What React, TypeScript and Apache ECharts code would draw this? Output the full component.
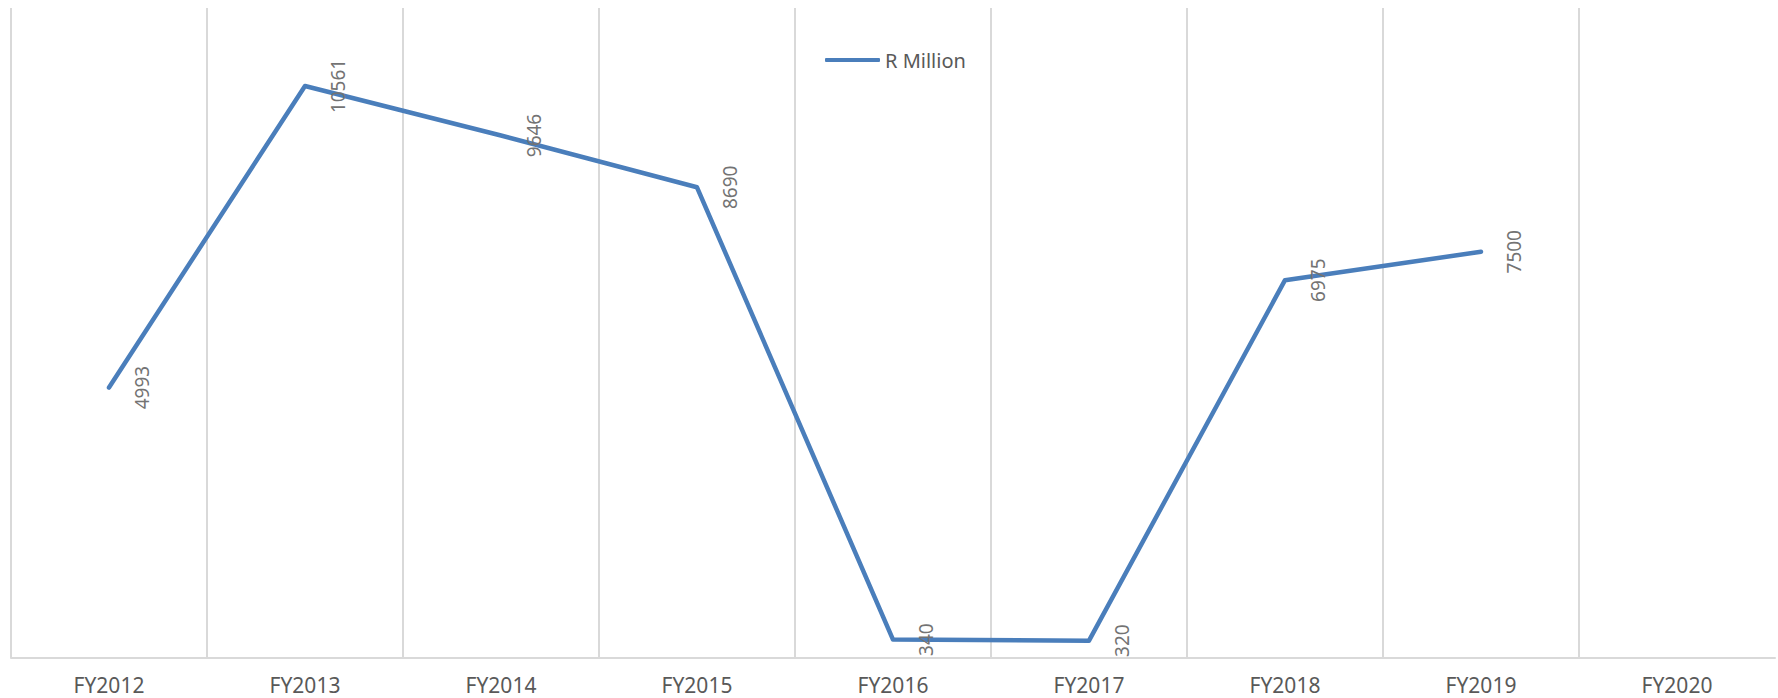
import React, { useEffect, useRef } from "react";
import * as echarts from "echarts";

const categories = ["FY2012", "FY2013", "FY2014", "FY2015", "FY2016", "FY2017", "FY2018", "FY2019", "FY2020"];
const rMillion: (number | null)[] = [4993, 10561, 9646, 8690, 340, 320, 6975, 7500, null];
const seriesName = "R Million";

export default function App() {
  const ref = useRef<HTMLDivElement>(null);
  useEffect(() => {
    if (!ref.current) return;
    const chart = echarts.init(ref.current, undefined, { renderer: "svg" });
    chart.setOption({
      animation: false,
      backgroundColor: "#ffffff",
      grid: { left: 11, right: 3, top: 8, bottom: 40, containLabel: false },
      legend: {
        data: [seriesName],
        left: 820,
        top: 45,
        icon: "roundRect",
        itemWidth: 55,
        itemHeight: 4,
        itemStyle: { color: "#4A7EBB" },
        textStyle: { fontFamily: "Noto Sans", fontSize: 20, lineHeight: 20, color: "#595959" },
      },
      xAxis: {
        type: "category",
        data: categories,
        boundaryGap: true,
        axisLine: { show: true, lineStyle: { color: "#d9d9d9", width: 2 } },
        axisTick: { show: false },
        axisLabel: {
          fontFamily: "Noto Sans",
          fontSize: 21,
          lineHeight: 21,
          color: "#595959",
          margin: 16,
        },
        splitLine: { show: true, showMaxLine: false, lineStyle: { color: "#d9d9d9", width: 2 } },
      },
      yAxis: {
        type: "value",
        min: 0,
        max: 12000,
        show: false,
        splitLine: { show: false },
      },
      series: [
        {
          name: seriesName,
          type: "line",
          data: rMillion,
          symbol: "circle",
          symbolSize: 0.1,
          showSymbol: true,
          showAllSymbol: true,
          lineStyle: { color: "#4A7EBB", width: 4.5, cap: "round", join: "round" },
          itemStyle: { color: "#4A7EBB" },
          label: {
            show: true,
            position: "inside",
            rotate: 90,
            offset: [0, 33],
            fontFamily: "Noto Sans",
            fontSize: 19,
            color: "#737373",
          },
        },
      ],
    });
    return () => chart.dispose();
  }, []);
  return (
    <div
      ref={ref}
      style={{ position: "fixed", left: 0, top: 0, width: 1778, height: 698 }}
    />
  );
}
